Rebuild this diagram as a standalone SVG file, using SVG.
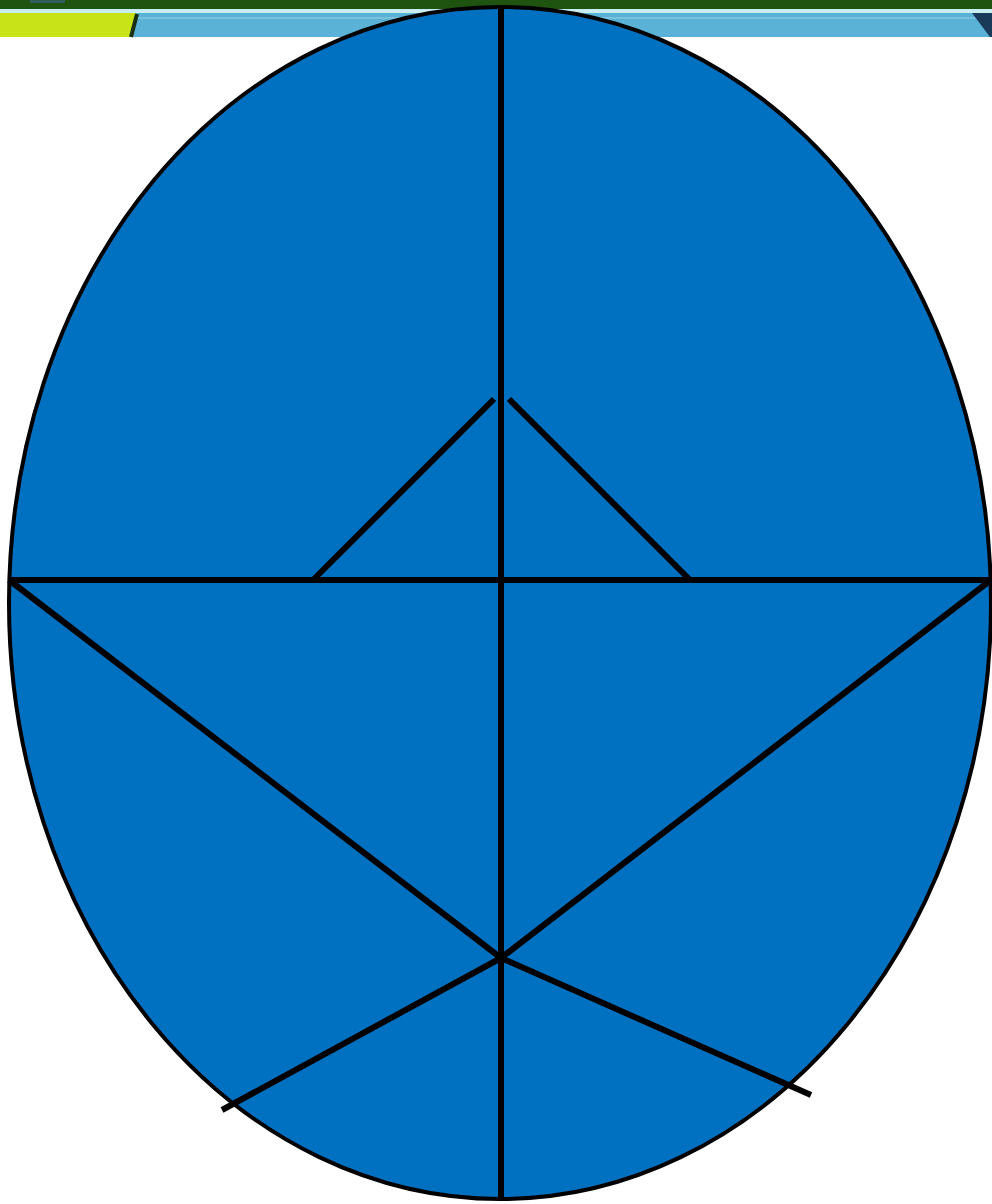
<svg xmlns="http://www.w3.org/2000/svg" width="992" height="1204" viewBox="0 0 992 1204">
<style>
.ln{stroke:#000;stroke-width:6;fill:none}
</style>
<rect width="992" height="1204" fill="#fff"/>
<g id="banner">
<rect x="0" y="0" width="992" height="9" fill="#1e5410"/>
<rect x="30" y="0" width="35" height="3" fill="#2e5f5a"/>
<rect x="0" y="9" width="992" height="4" fill="#c8eef2"/>
<rect x="0" y="13" width="992" height="24" fill="#5ab2d6"/>
<rect x="0" y="17" width="992" height="2" fill="#78c2de"/>
<polygon points="0,13 136,13 130,37 0,37" fill="#c8e418"/>
<line x1="137" y1="14" x2="131" y2="37" stroke="#1a3010" stroke-width="4"/>
<polygon points="972,13 992,13 992,37 990,37" fill="#1a3a5a"/>
</g>
<g id="shape">
<ellipse cx="500" cy="603" rx="491" ry="596" fill="#0070c0" stroke="#000" stroke-width="4"/>
</g>
<g id="connectors">
<line class="ln" x1="9" y1="580" x2="991" y2="580"/>
<line class="ln" x1="501" y1="6" x2="501" y2="1200"/>
<line class="ln" x1="9" y1="580" x2="501" y2="958"/>
<line class="ln" x1="991" y1="580" x2="501" y2="958"/>
<line class="ln" x1="501" y1="958" x2="222" y2="1110"/>
<line class="ln" x1="501" y1="958" x2="811" y2="1095"/>
<line class="ln" x1="313" y1="580" x2="494" y2="399"/>
<line class="ln" x1="509" y1="399" x2="690" y2="580"/>
</g>
</svg>
